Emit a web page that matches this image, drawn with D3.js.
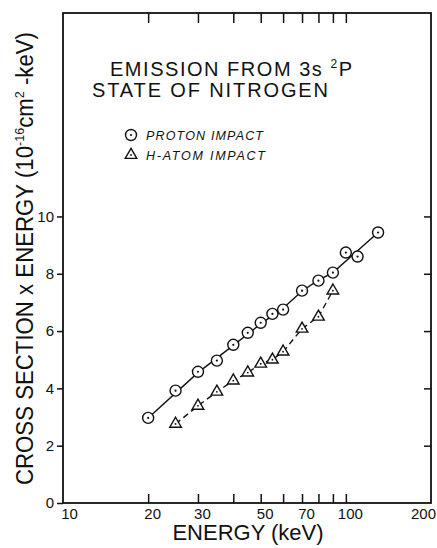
<!DOCTYPE html>
<html>
<head>
<meta charset="utf-8">
<script src="https://cdn.jsdelivr.net/npm/d3@7"></script>
<style>
body { margin: 0; background: #fff; }
text { font-family: "Liberation Sans", Arial, sans-serif; fill: #111; }
</style>
</head>
<body>
<div id="graph"></div>
<script>
// data
const protonEnergy = [20, 25, 30, 35, 40, 45, 50, 55, 60, 70, 80, 90, 100, 110, 130];
const protonValue = [2.97, 3.92, 4.58, 4.97, 5.52, 5.94, 6.29, 6.6, 6.75, 7.41, 7.76, 8.04, 8.74, 8.6, 9.44];

const hatomEnergy = [25, 30, 35, 40, 45, 50, 55, 60, 70, 80, 90];
const hatomValue = [2.76, 3.39, 3.88, 4.27, 4.55, 4.86, 5.0, 5.28, 6.08, 6.5, 7.41];

// hand-drawn line through the proton points
const fitEnergy = [20, 30, 40, 50, 60, 70, 80, 90, 130];
const fitValue = [2.97, 4.55, 5.5, 6.25, 6.8, 7.4, 7.78, 8.04, 9.44];

const xTickLabels = [10, 20, 30, 50, 70, 100, 200];
const xTicks = [20, 30, 40, 50, 60, 70, 80, 90, 100];
const yTicks = [0, 2, 4, 6, 8, 10];
const yTicksRight = [2, 4, 6, 8, 10];

// set up svg
const margin = {top: 13, right: 6, bottom: 45, left: 63},
    width = 437 - margin.left - margin.right,
    height = 548 - margin.top - margin.bottom;

const root = d3.select("#graph")
    .append("svg")
    .attr("width", 437)
    .attr("height", 548);

const svg = root.append("g")
    .attr("transform", "translate(" + margin.left + "," + margin.top + ")");

const x = d3.scaleLog().domain([10, 200]).range([0, width]);
const y = d3.scaleLinear().domain([0, 17.1]).range([height, 0]);

// frame
svg.append("rect")
    .attr("width", width)
    .attr("height", height)
    .attr("fill", "none")
    .attr("stroke", "#111")
    .attr("stroke-width", 1.8);

// left axis, ticks outside
const leftAxis = svg.append("g")
    .call(d3.axisLeft(y).tickValues(yTicks).tickSize(6).tickSizeOuter(0).tickPadding(3).tickFormat(d3.format("d")));
leftAxis.select(".domain").remove();
leftAxis.selectAll("line").attr("stroke", "#111").attr("stroke-width", 1.5);
leftAxis.selectAll("text").attr("font-size", 15).attr("fill", "#111");

// right axis, ticks inside
const rightAxis = svg.append("g")
    .attr("transform", "translate(" + width + ",0)")
    .call(d3.axisRight(y).tickValues(yTicksRight).tickSize(-7).tickSizeOuter(0).tickFormat(""));
rightAxis.select(".domain").remove();
rightAxis.selectAll("line").attr("stroke", "#111").attr("stroke-width", 1.5);

// bottom ticks inside
const bottomAxis = svg.append("g")
    .attr("transform", "translate(0," + height + ")")
    .call(d3.axisBottom(x).tickValues(xTicks).tickSize(-9).tickSizeOuter(0).tickFormat(""));
bottomAxis.select(".domain").remove();
bottomAxis.selectAll("line").attr("stroke", "#111").attr("stroke-width", 1.5);

// bottom labels
const bottomLabels = svg.append("g")
    .attr("transform", "translate(0," + height + ")")
    .call(d3.axisBottom(x).tickValues(xTickLabels).tickSize(0).tickPadding(5).tickFormat(d3.format("d")));
bottomLabels.select(".domain").remove();
bottomLabels.selectAll("text")
    .attr("font-size", 15)
    .attr("fill", "#111")
    .attr("dx", function (d) { return d == 10 ? 6 : (d == 200 ? -8 : 4); });

// top ticks inside
const topAxis = svg.append("g")
    .call(d3.axisTop(x).tickValues(xTicks).tickSize(-10).tickSizeOuter(0).tickFormat(""));
topAxis.select(".domain").remove();
topAxis.selectAll("line").attr("stroke", "#111").attr("stroke-width", 1.5);

// lines
const protonFit = fitEnergy.map(function (e, i) { return [e, fitValue[i]]; });
const hatom = hatomEnergy.map(function (e, i) { return [e, hatomValue[i]]; });
const proton = protonEnergy.map(function (e, i) { return [e, protonValue[i]]; });

const line = d3.line()
    .x(function (d) { return x(d[0]); })
    .y(function (d) { return y(d[1]); });

svg.append("path")
    .attr("d", line(protonFit))
    .attr("fill", "none")
    .attr("stroke", "#111")
    .attr("stroke-width", 1.4);

svg.append("path")
    .attr("d", line(hatom))
    .attr("fill", "none")
    .attr("stroke", "#111")
    .attr("stroke-width", 1.4)
    .attr("stroke-dasharray", "6,4");

// markers
function circleMark(g) {
    g.append("circle").attr("r", 5.5).attr("fill", "#fff").attr("stroke", "#111").attr("stroke-width", 1.4);
    g.append("circle").attr("r", 1.1).attr("fill", "#111");
}
function triMark(g) {
    g.append("path").attr("d", d3.symbol().type(d3.symbolTriangle).size(58)())
        .attr("fill", "#fff").attr("stroke", "#111").attr("stroke-width", 1.4);
    g.append("circle").attr("r", 0.9).attr("fill", "#111");
}

svg.selectAll(".tri")
    .data(hatom)
    .enter().append("g")
    .attr("class", "tri")
    .attr("transform", function (d) { return "translate(" + x(d[0]) + "," + y(d[1]) + ")"; })
    .each(function () { triMark(d3.select(this)); });

svg.selectAll(".circ")
    .data(proton)
    .enter().append("g")
    .attr("class", "circ")
    .attr("transform", function (d) { return "translate(" + x(d[0]) + "," + y(d[1]) + ")"; })
    .each(function () { circleMark(d3.select(this)); });

// title
const t1 = root.append("text")
    .attr("x", 110).attr("y", 76)
    .attr("font-size", 20)
    .attr("textLength", 242).attr("lengthAdjust", "spacing");
t1.append("tspan").text("EMISSION FROM 3s ");
t1.append("tspan").attr("font-size", 12).attr("dy", -8).text("2");
t1.append("tspan").attr("dy", 8).text("P");

root.append("text")
    .attr("x", 92).attr("y", 97)
    .attr("font-size", 20)
    .attr("textLength", 236).attr("lengthAdjust", "spacing")
    .text("STATE OF NITROGEN");

// legend
const leg1 = root.append("g").attr("transform", "translate(131,135)");
circleMark(leg1);
const leg2 = root.append("g").attr("transform", "translate(131,155)");
triMark(leg2);

root.append("text")
    .attr("x", 146).attr("y", 140)
    .attr("font-size", 12.5).attr("font-style", "italic")
    .attr("textLength", 117).attr("lengthAdjust", "spacing")
    .text("PROTON IMPACT");
root.append("text")
    .attr("x", 146).attr("y", 159.5)
    .attr("font-size", 12.5).attr("font-style", "italic")
    .attr("textLength", 119).attr("lengthAdjust", "spacing")
    .text("H-ATOM IMPACT");

// axis titles
root.append("text")
    .attr("x", 248).attr("y", 540)
    .attr("text-anchor", "middle")
    .attr("font-size", 22)
    .text("ENERGY (keV)");

const yl = root.append("text")
    .attr("transform", "translate(33,485) rotate(-90)")
    .attr("font-size", 23)
    .attr("textLength", 453).attr("lengthAdjust", "spacingAndGlyphs");
yl.append("tspan").text("CROSS SECTION x ENERGY (10");
yl.append("tspan").attr("font-size", 13).attr("dy", -9).text("-16");
yl.append("tspan").attr("dy", 9).text("cm");
yl.append("tspan").attr("font-size", 13).attr("dy", -9).text("2");
yl.append("tspan").attr("dy", 9).text(" -keV)");
</script>
</body>
</html>
